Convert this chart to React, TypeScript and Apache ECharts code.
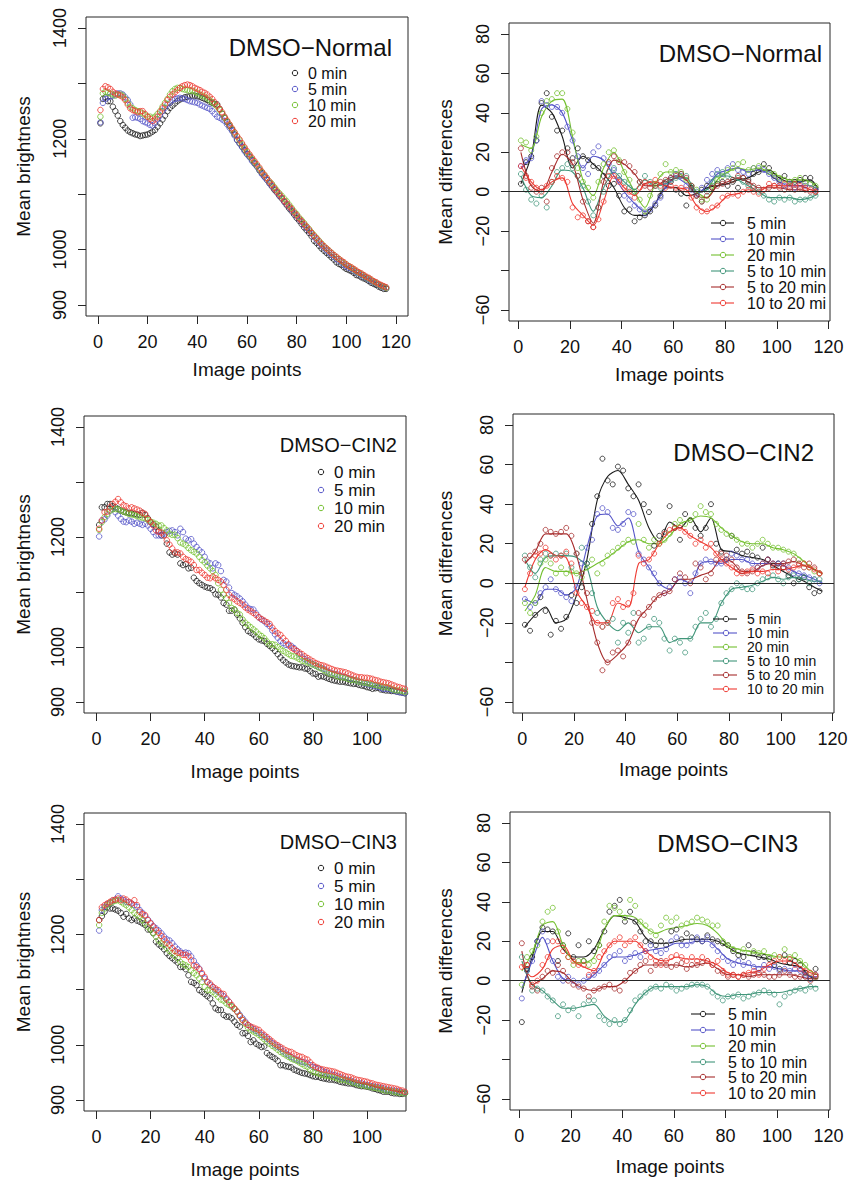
import React, { useEffect, useRef } from "react";
import * as echarts from "echarts";

// ---------- x positions (image point index) ----------
const brightX = Array.from({ length: 116 }, (_, i) => i + 1);
const diffPtX = Array.from({ length: 58 }, (_, i) => 1 + 2 * i);
const diffLineX = [1, 5, 9, 13, 17, 21, 25, 29, 33, 37, 41, 45, 49, 53, 57, 61, 65, 69, 73, 77, 81, 85, 89, 93, 97, 101, 105, 109, 113, 116];

// ---------- labels ----------
const brightLabels = ["0 min", "5 min", "10 min", "20 min"];
const diffLabels = ["5 min", "10 min", "20 min", "5 to 10 min", "5 to 20 min", "10 to 20 min"];
const xTicksWide = [0, 20, 40, 60, 80, 100, 120];
const xTicksNarrow = [0, 20, 40, 60, 80, 100];
const brightTicks = [900, 1000, 1100, 1200, 1300, 1400];
const brightTickLabels = [900, 1000, 1200, 1400];
const diffTicks = [-60, -40, -20, 0, 20, 40, 60, 80];
const diffTickLabels = [-60, -20, 0, 20, 40, 60, 80];

// ---------- DMSO-Normal brightness ----------
const normal0 = [1228,1272,1275,1268,1268,1258,1250,1242,1232,1225,1220,1215,1212,1210,1208,1207,1205,1206,1207,1208,1210,1213,1216,1222,1228,1235,1242,1250,1256,1260,1264,1268,1271,1273,1275,1276,1277,1278,1278,1277,1276,1274,1272,1270,1267,1265,1263,1262,1254,1245,1238,1230,1223,1216,1208,1198,1192,1186,1180,1173,1168,1162,1156,1150,1143,1138,1132,1126,1120,1114,1108,1103,1097,1092,1086,1080,1074,1069,1063,1057,1052,1046,1040,1035,1030,1024,1016,1012,1007,1002,998,994,990,986,982,977,974,972,968,965,963,961,958,954,953,950,948,946,943,940,938,936,933,931,929,929];
const normal5 = [1230,1265,1272,1275,1276,1278,1280,1282,1282,1280,1275,1270,1262,1238,1239,1238,1236,1232,1230,1228,1225,1224,1228,1235,1242,1250,1256,1262,1266,1270,1272,1273,1274,1273,1272,1270,1268,1267,1266,1265,1262,1260,1258,1256,1254,1250,1245,1240,1238,1235,1232,1226,1220,1214,1206,1198,1192,1185,1178,1172,1167,1160,1155,1150,1144,1136,1131,1126,1120,1115,1110,1104,1098,1093,1087,1082,1077,1071,1066,1060,1055,1050,1044,1039,1034,1029,1023,1018,1013,1008,1004,999,995,991,987,983,980,977,973,970,967,965,962,959,957,954,951,949,946,943,941,939,936,934,932,931];
const normal10 = [1240,1282,1285,1283,1282,1280,1278,1280,1280,1278,1272,1265,1258,1255,1252,1250,1248,1246,1243,1240,1240,1238,1240,1245,1250,1258,1265,1272,1280,1286,1290,1292,1292,1290,1289,1288,1287,1287,1285,1283,1280,1278,1276,1273,1270,1266,1262,1258,1252,1246,1238,1232,1225,1218,1211,1204,1197,1190,1183,1176,1170,1164,1158,1152,1146,1140,1135,1129,1123,1119,1113,1107,1102,1097,1092,1087,1081,1075,1069,1064,1058,1053,1048,1042,1037,1031,1026,1021,1016,1011,1006,1002,998,994,990,986,983,979,976,973,970,967,964,961,958,956,953,950,948,945,942,940,937,935,933,931];
const normal20 = [1252,1290,1295,1293,1290,1285,1282,1280,1278,1275,1270,1262,1255,1252,1250,1248,1250,1250,1245,1240,1236,1232,1235,1240,1248,1255,1262,1270,1276,1280,1284,1288,1292,1295,1297,1298,1297,1295,1292,1290,1288,1285,1283,1280,1276,1272,1266,1260,1254,1248,1240,1233,1226,1219,1212,1205,1199,1192,1185,1178,1172,1166,1160,1154,1148,1141,1135,1129,1123,1117,1111,1105,1100,1094,1088,1083,1078,1073,1067,1062,1056,1051,1046,1041,1036,1030,1025,1020,1015,1010,1006,1002,998,994,990,987,983,980,977,973,970,968,965,962,959,957,954,951,949,946,943,941,938,936,934,932];

// ---------- DMSO-CIN2 brightness ----------
const cin2_0 = [1222,1254,1254,1260,1260,1256,1254,1251,1248,1246,1245,1244,1243,1242,1241,1240,1244,1240,1234,1227,1223,1219,1211,1203,1203,1188,1172,1168,1170,1168,1152,1149,1151,1143,1144,1126,1120,1116,1113,1110,1108,1107,1104,1096,1095,1090,1080,1077,1066,1066,1068,1059,1052,1044,1036,1029,1026,1023,1018,1014,1012,1011,1006,1002,998,993,987,981,976,972,968,966,965,964,963,963,961,960,956,952,951,946,947,946,944,942,940,939,938,937,937,936,935,934,933,933,931,930,929,927,926,924,925,926,923,922,921,921,920,920,919,918,917,916,915,914];
const cin2_5 = [1201,1230,1232,1239,1248,1251,1245,1239,1233,1228,1227,1230,1228,1224,1226,1224,1222,1224,1221,1215,1209,1203,1203,1203,1206,1209,1211,1212,1209,1203,1215,1209,1197,1194,1196,1188,1182,1176,1172,1164,1155,1152,1143,1152,1149,1138,1122,1119,1108,1098,1095,1092,1088,1083,1077,1071,1069,1068,1061,1054,1050,1047,1042,1038,1030,1023,1017,1011,1007,1004,1003,1002,998,993,987,981,978,975,972,969,966,964,962,960,957,954,952,951,950,948,946,945,943,942,940,939,937,936,934,933,931,930,929,928,926,924,924,924,922,921,919,918,917,916,915,914];
const cin2_10 = [1213,1227,1236,1242,1248,1250,1251,1250,1248,1246,1244,1242,1241,1240,1238,1236,1235,1234,1231,1228,1226,1224,1221,1221,1216,1212,1206,1204,1204,1198,1190,1188,1185,1180,1176,1173,1170,1164,1158,1154,1148,1143,1138,1131,1116,1104,1095,1089,1080,1071,1068,1062,1059,1050,1044,1040,1036,1032,1028,1023,1020,1016,1010,1005,1005,1004,1000,996,993,990,987,984,983,981,978,975,974,972,970,968,966,963,961,958,955,952,951,950,947,945,945,944,942,940,940,939,937,936,935,934,933,932,931,930,929,927,927,926,924,922,921,921,920,918,917,916];
const cin2_20 = [1215,1230,1245,1246,1254,1260,1264,1269,1263,1258,1256,1252,1254,1252,1250,1248,1244,1242,1233,1227,1221,1212,1209,1208,1203,1194,1186,1179,1172,1172,1170,1164,1160,1158,1155,1149,1140,1140,1135,1131,1126,1125,1128,1125,1122,1119,1113,1104,1095,1090,1087,1083,1080,1077,1072,1068,1065,1062,1058,1054,1051,1048,1045,1042,1035,1029,1025,1022,1016,1011,1005,999,996,993,990,987,983,980,977,974,971,969,967,966,964,962,960,958,957,956,955,954,952,950,948,946,945,945,944,944,943,942,940,939,937,936,935,934,932,930,928,927,925,924,923,922];

// ---------- DMSO-CIN3 brightness ----------
const cin3_0 = [1226,1233,1241,1249,1247,1247,1245,1243,1239,1232,1237,1229,1226,1229,1225,1223,1220,1217,1209,1208,1202,1187,1182,1178,1173,1166,1161,1157,1153,1149,1141,1141,1137,1126,1114,1112,1108,1099,1096,1092,1088,1084,1075,1066,1063,1063,1054,1051,1051,1048,1042,1036,1033,1021,1021,1016,1005,1008,1002,999,996,997,985,981,978,975,971,963,963,961,960,959,955,953,951,949,948,947,945,943,942,942,940,939,938,937,937,936,935,933,932,931,930,930,929,927,926,925,925,924,923,921,920,918,917,915,915,915,913,912,912,911,911,912,911,910];
const cin3_5 = [1207,1244,1250,1255,1257,1261,1263,1269,1265,1262,1259,1258,1256,1253,1250,1244,1239,1233,1227,1221,1215,1211,1207,1202,1196,1191,1189,1184,1178,1173,1169,1166,1167,1166,1160,1152,1144,1138,1128,1120,1114,1108,1105,1099,1096,1092,1088,1082,1078,1070,1065,1060,1054,1048,1042,1036,1032,1028,1025,1022,1018,1015,1011,1007,1003,999,996,993,988,984,981,978,975,973,971,969,968,966,963,960,958,957,954,951,950,948,946,945,943,941,939,937,936,935,933,931,930,930,928,927,926,925,924,923,922,921,919,918,917,917,916,915,914,913,912,911];
const cin3_10 = [1217,1239,1247,1253,1257,1259,1261,1262,1259,1256,1253,1249,1244,1239,1235,1231,1226,1220,1214,1209,1203,1196,1189,1184,1181,1175,1170,1166,1161,1157,1150,1146,1144,1141,1135,1130,1126,1120,1114,1105,1099,1099,1096,1092,1087,1082,1080,1075,1072,1069,1065,1060,1052,1045,1038,1031,1027,1024,1021,1018,1014,1010,1006,1002,998,995,991,987,984,981,978,975,973,971,968,965,962,960,955,951,950,948,946,945,944,943,942,941,939,937,937,936,934,933,931,930,928,927,926,925,924,923,922,921,920,918,917,917,916,915,914,913,913,912,911,910];
const cin3_20 = [1226,1249,1253,1256,1259,1262,1263,1265,1262,1265,1263,1259,1256,1262,1253,1241,1237,1235,1226,1220,1214,1208,1203,1197,1191,1185,1181,1175,1170,1167,1166,1163,1163,1160,1153,1144,1141,1137,1130,1123,1114,1111,1105,1102,1099,1093,1092,1084,1078,1072,1066,1060,1052,1045,1040,1036,1033,1031,1029,1027,1022,1018,1014,1010,1006,1002,999,996,993,990,988,987,984,981,979,978,975,973,968,963,960,958,956,955,954,953,952,951,949,947,945,943,942,941,939,937,936,935,934,933,931,930,928,927,926,925,924,923,922,921,920,918,917,915,914,913];

// ---------- DMSO-Normal differences (points at odd x, smooth curves) ----------
const nD5 = [4,15,18,26,45,50,38,31,31,22,17,22,18,16,13,12,8,3,4,-2,-10,-9,-15,-13,-12,-10,-7,-2,4,5,1,-1,-7,2,-2,1,3,2,4,5,3,5,2,7,6,9,10,14,12,8,6,8,5,5,6,7,7,2];
const nD5c = [4,18,44,40,28,12,18,14,9,2,-8,-12,-12,-6,2,2,-2,-1,2,3,4,6,7,10,11,7,5,5,6,1];
const nD10 = [13,16,17,26,46,44,43,43,40,33,26,18,12,9,20,23,17,14,11,6,-2,-4,-7,-9,-11,-9,-6,-3,3,7,9,8,3,1,-1,2,6,9,11,9,12,14,11,10,9,12,12,11,9,7,5,3,4,2,4,3,4,1];
const nD10c = [12,18,42,44,40,26,12,18,16,8,0,-6,-10,-6,2,7,4,-1,3,9,11,12,10,11,9,5,3,3,3,1];
const nD20 = [26,25,21,28,40,46,47,50,50,42,30,12,5,2,-3,5,14,20,21,16,10,6,0,-4,-10,-2,4,9,14,10,11,10,6,3,1,-4,-4,3,6,8,11,12,14,15,11,12,13,12,10,9,7,6,5,6,7,5,4,3];
const nD20c = [24,22,38,46,47,28,6,-2,12,20,10,0,-8,4,10,10,6,0,-3,6,10,12,11,12,10,8,6,6,5,2];
const nD5to10 = [9,1,-4,-6,-2,-8,5,10,12,14,12,8,3,-5,-12,-8,0,10,12,8,5,2,0,5,8,5,3,2,5,6,7,9,8,3,0,-5,0,5,9,10,8,6,7,5,3,2,0,-2,-4,-5,-3,-4,-3,-5,-4,-4,-3,-2];
const nD5to10c = [8,-2,-3,3,11,10,2,-10,2,10,5,1,6,3,4,7,7,0,1,8,8,6,3,0,-3,-3,-3,-4,-3,-1];
const nD5to20 = [22,8,2,0,2,-5,12,18,20,20,15,8,-5,-15,-18,-8,5,15,18,15,15,13,10,5,3,2,3,5,6,7,8,9,7,3,-2,-5,-2,2,3,4,5,6,8,7,5,3,2,1,2,3,2,1,2,1,2,1,0,0];
const nD5to20c = [20,3,0,10,19,14,-4,-16,5,16,14,9,3,3,6,8,6,-2,-3,3,5,7,5,2,2,2,1,1,0,0];
const nD10to20 = [13,7,5,2,0,3,5,8,7,5,-8,-13,-12,-15,-18,-14,-5,8,8,5,2,0,-3,2,5,4,6,3,2,3,2,2,1,-3,-8,-10,-10,-8,-7,-3,-2,-1,-2,0,1,0,-1,1,4,3,3,4,3,4,3,2,1,0];
const nD10to20c = [13,5,1,5,7,-6,-12,-17,-5,8,2,-2,4,5,3,2,1,-7,-10,-7,-2,-1,1,0,3,3,3,3,1,0];

// ---------- DMSO-CIN2 differences ----------
const c2D5 = [-21,-24,-16,-7,-14,-26,-19,-23,-17,-6,-10,-2,10,30,44,63,52,50,59,57,48,44,50,40,36,19,24,26,39,28,22,35,32,28,24,28,40,20,16,12,24,17,15,16,14,13,18,12,9,10,8,4,0,2,3,-2,-5,-4];
const c2D5c = [-22,-16,-12,-20,-18,-6,12,42,54,57,50,42,28,21,31,28,33,26,33,17,16,14,13,12,9,6,3,1,-2,-4];
const c2D10 = [-8,-12,-10,-5,-2,2,-3,-5,-7,-9,-2,10,18,22,35,38,36,28,27,30,36,35,15,12,8,5,0,-5,-2,2,3,0,-5,5,10,12,11,10,10,12,15,14,12,12,10,8,10,12,10,10,10,8,5,5,4,3,2,0];
const c2D10c = [-8,-10,-3,-3,-6,-2,18,34,35,29,33,16,8,0,-3,2,0,10,11,10,12,12,10,10,10,9,6,4,2,0];
const c2D20 = [-10,-15,-10,10,12,10,5,8,5,6,5,3,8,12,5,10,14,16,18,20,22,21,30,22,18,22,20,22,25,30,32,30,32,35,39,36,35,30,27,25,24,22,20,20,18,20,22,20,18,18,17,16,15,12,10,8,6,5];
const c2D20c = [-14,-6,8,6,6,5,7,10,13,17,21,22,20,20,24,30,32,34,33,28,24,21,20,20,18,17,15,11,7,5];
const c2D5to10 = [14,8,3,12,15,14,15,14,15,8,15,18,10,-5,-15,-22,-20,-18,-30,-20,-25,-15,-30,-28,-22,-18,-20,-28,-34,-28,-30,-35,-28,-22,-18,-15,-22,-18,-10,-5,-3,0,-2,-3,-3,0,2,3,4,2,0,3,4,2,3,0,2,2];
const c2D5to10c = [12,5,13,14,14,13,8,-12,-20,-24,-20,-25,-22,-22,-30,-28,-28,-20,-20,-10,-3,-2,-1,1,3,2,3,2,1,1];
const c2D5to20 = [12,14,16,20,27,26,25,26,28,24,15,5,-5,-20,-30,-44,-40,-35,-34,-37,-30,-20,-15,-16,-12,-8,-6,-5,-4,2,5,3,0,10,8,2,5,12,15,14,12,8,6,5,6,8,10,12,10,8,10,11,12,10,8,10,8,5];
const c2D5to20c = [10,16,25,25,25,14,-8,-30,-40,-36,-30,-18,-12,-6,-4,2,2,4,6,12,11,6,6,9,10,10,11,9,7,5];
const c2D10to20 = [-3,5,14,15,18,14,12,14,16,10,-5,-10,-12,-14,-20,-22,-20,-10,-8,-12,-10,-5,14,10,12,15,20,25,27,28,28,26,24,20,22,18,20,15,12,10,8,5,5,6,7,5,6,5,8,6,8,7,8,9,10,8,7,5];
const c2D10to20c = [-2,12,17,14,13,-4,-12,-20,-20,-10,-12,10,12,20,26,28,24,21,18,12,8,5,6,6,7,7,8,9,7,5];

// ---------- DMSO-CIN3 differences ----------
const c3D5 = [-21,6,12,20,27,26,25,10,18,24,12,18,10,20,15,18,25,35,38,41,30,35,30,25,20,20,18,20,18,25,26,21,24,22,21,20,23,21,20,19,18,15,13,12,18,14,12,12,11,8,6,13,9,10,8,4,1,6];
const c3D5c = [-6,12,25,25,16,12,12,16,26,33,32,30,22,19,19,20,21,21,21,20,17,14,13,12,11,9,8,7,2,1];
const c3D10 = [-9,5,10,20,25,20,10,2,0,2,0,-2,0,2,3,5,8,12,13,15,10,12,14,12,15,18,15,14,16,20,22,18,18,20,22,20,22,18,15,12,10,8,10,8,9,7,6,8,6,7,5,6,5,6,5,3,1,3];
const c3D10c = [-4,10,22,10,1,0,0,3,8,12,12,13,15,16,17,19,19,20,20,16,11,9,8,7,7,6,5,5,2,2];
const c3D20 = [-2,12,15,18,30,35,37,25,18,12,8,10,10,8,10,18,30,38,37,35,32,41,38,30,28,25,23,28,32,30,32,28,29,30,32,31,30,28,28,20,18,16,15,16,14,15,14,15,12,13,12,16,12,13,10,8,4,2];
const c3D20c = [5,14,28,30,18,10,9,12,26,33,33,32,27,24,26,27,28,29,28,24,18,16,15,14,13,12,12,10,5,3];
const c3D5to10 = [12,5,-5,-4,-5,-8,-10,-18,-12,-15,-14,-18,-12,-10,-10,-18,-20,-22,-20,-22,-20,-15,-10,-8,-6,-4,-3,-4,-2,-3,-5,-4,-3,-2,-2,-2,-3,-6,-8,-10,-8,-8,-7,-9,-8,-7,-6,-5,-6,-7,-12,-8,-6,-5,-4,-5,-3,-4];
const c3D5to10c = [10,-2,-5,-10,-14,-14,-13,-12,-18,-21,-20,-12,-6,-3,-3,-3,-3,-2,-3,-7,-8,-7,-7,-6,-6,-6,-5,-4,-3,-3];
const c3D5to20 = [19,8,-3,-5,2,5,4,8,5,0,-2,-3,-4,-8,-5,-4,-3,-2,-4,-5,0,4,5,8,10,5,8,10,8,7,8,9,6,8,8,9,10,8,5,4,2,3,2,3,2,3,4,3,2,2,3,5,3,2,2,2,0,2];
const c3D5to20c = [15,-2,1,5,4,-1,-4,-5,-3,-3,0,5,8,8,8,8,7,8,9,6,3,3,2,3,3,3,3,2,1,1];
const c3D10to20 = [7,8,-2,0,8,12,20,20,15,12,10,8,8,3,5,12,15,18,20,22,18,20,22,18,15,12,10,8,10,12,13,12,10,12,10,12,10,8,10,5,3,3,2,3,4,5,3,6,8,10,12,10,11,8,6,5,4,3];
const c3D10to20c = [8,2,6,16,18,10,7,5,14,20,20,20,15,11,10,12,11,11,10,8,4,3,4,5,8,10,10,7,4,3];

// ---------- styling ----------
const FONT = '"Liberation Sans", Arial, Helvetica, sans-serif';
const INK = "#262626";
const TXT = "#111111";
const brightColors = ["#1c1c1c", "#5555c8", "#74c030", "#ee3a32"];
const diffColors = ["#1c1c1c", "#5555c8", "#74c030", "#41967a", "#a62c2c", "#ee3a32"];

type Panel = {
  kind: "bright" | "diff";
  box: [number, number, number, number];
  xMin: number;
  xMax: number;
  xTicks: number[];
  xNameGap: number;
  yNameGap: number;
  title: string;
  titleX: number;
  titleY: number;
  titleSize: number;
  legend: { lx1?: number; lx2?: number; cx: number; rows: number[]; tx: number; size: number; clipW?: number };
  pts?: number[][];
  curves?: number[][];
};

const panels: Panel[] = [
  {
    kind: "bright", box: [86, 17, 322, 299], xMin: -4.8, xMax: 124.8, xTicks: xTicksWide, xNameGap: 44, yNameGap: 53,
    title: "DMSO\u2212Normal", titleX: 392, titleY: 47, titleSize: 24,
    legend: { cx: 295, rows: [73, 89, 105, 121], tx: 308, size: 16 },
    pts: [normal0, normal5, normal10, normal20],
  },
  {
    kind: "diff", box: [509, 23, 321, 298], xMin: -3.6, xMax: 120.6, xTicks: xTicksWide, xNameGap: 44, yNameGap: 54,
    title: "DMSO\u2212Normal", titleX: 822, titleY: 53, titleSize: 24,
    legend: { lx1: 711, lx2: 734, cx: 723, rows: [223, 239, 255, 271, 287, 303], tx: 747, size: 16, clipW: 88 },
    pts: [nD5, nD10, nD20, nD5to10, nD5to20, nD10to20],
    curves: [nD5c, nD10c, nD20c, nD5to10c, nD5to20c, nD10to20c],
  },
  {
    kind: "bright", box: [84, 416, 322, 297], xMin: -4.6, xMax: 114.4, xTicks: xTicksNarrow, xNameGap: 49, yNameGap: 51,
    title: "DMSO\u2212CIN2", titleX: 397, titleY: 445, titleSize: 20,
    legend: { cx: 321, rows: [472, 490, 508, 526], tx: 334, size: 17 },
    pts: [cin2_0, cin2_5, cin2_10, cin2_20],
  },
  {
    kind: "diff", box: [513, 414, 321, 299], xMin: -3.6, xMax: 120.6, xTicks: xTicksWide, xNameGap: 47, yNameGap: 58,
    title: "DMSO\u2212CIN2", titleX: 814, titleY: 452, titleSize: 24,
    legend: { lx1: 713, lx2: 737, cx: 726, rows: [619, 633, 647, 661, 675, 689], tx: 747, size: 14 },
    pts: [c2D5, c2D10, c2D20, c2D5to10, c2D5to20, c2D10to20],
    curves: [c2D5c, c2D10c, c2D20c, c2D5to10c, c2D5to20c, c2D10to20c],
  },
  {
    kind: "bright", box: [84, 813, 322, 298], xMin: -4.6, xMax: 114.4, xTicks: xTicksNarrow, xNameGap: 49, yNameGap: 51,
    title: "DMSO\u2212CIN3", titleX: 397, titleY: 842, titleSize: 20,
    legend: { cx: 321, rows: [868, 886, 904, 922], tx: 334, size: 17 },
    pts: [cin3_0, cin3_5, cin3_10, cin3_20],
  },
  {
    kind: "diff", box: [510, 812, 320, 298], xMin: -3.6, xMax: 120.6, xTicks: xTicksWide, xNameGap: 47, yNameGap: 55,
    title: "DMSO\u2212CIN3", titleX: 798, titleY: 843, titleSize: 24,
    legend: { lx1: 691, lx2: 715, cx: 703, rows: [1014, 1030, 1046, 1062, 1077, 1093], tx: 728, size: 16 },
    pts: [c3D5, c3D10, c3D20, c3D5to10, c3D5to20, c3D10to20],
    curves: [c3D5c, c3D10c, c3D20c, c3D5to10c, c3D5to20c, c3D10to20c],
  },
];

const fmtNum = (v: number) => (v < 0 ? "\u2212" + Math.abs(v) : String(v));

function buildOption() {
  const grid: any[] = [];
  const xAxis: any[] = [];
  const yAxis: any[] = [];
  const series: any[] = [];
  const graphic: any[] = [];

  panels.forEach((p, i) => {
    const [l, t, w, h] = p.box;
    grid.push({ left: l, top: t, width: w, height: h, show: true, borderColor: INK, borderWidth: 1, backgroundColor: "transparent" });
    xAxis.push({
      gridIndex: i, type: "value", min: p.xMin, max: p.xMax, position: "bottom",
      axisLine: { show: false, onZero: false }, splitLine: { show: false },
      axisTick: { show: true, inside: false, length: 8, lineStyle: { color: INK, width: 1 }, customValues: p.xTicks },
      axisLabel: { customValues: p.xTicks, margin: 17, fontSize: 18, color: TXT, fontFamily: FONT, formatter: fmtNum },
      name: "Image points", nameLocation: "middle", nameGap: p.xNameGap,
      nameTextStyle: { fontSize: 19, color: TXT, fontFamily: FONT },
    });
    const isB = p.kind === "bright";
    yAxis.push({
      gridIndex: i, type: "value", min: isB ? 880 : -65.6, max: isB ? 1420 : 85.6, position: "left",
      axisLine: { show: false, onZero: false }, splitLine: { show: false },
      axisTick: { show: true, inside: false, length: 8, lineStyle: { color: INK, width: 1 }, customValues: isB ? brightTicks : diffTicks },
      axisLabel: { customValues: isB ? brightTickLabels : diffTickLabels, rotate: 90, margin: 17, fontSize: 18, color: TXT, fontFamily: FONT, formatter: fmtNum },
      name: isB ? "Mean brightness" : "Mean differences", nameLocation: "middle", nameGap: p.yNameGap,
      nameTextStyle: { fontSize: 19, color: TXT, fontFamily: FONT },
    });

    const colors = isB ? brightColors : diffColors;
    const labels = isB ? brightLabels : diffLabels;

    if (!isB) {
      series.push({
        type: "line", xAxisIndex: i, yAxisIndex: i, data: [], silent: true, z: 1,
        markLine: {
          silent: true, symbol: "none", label: { show: false },
          lineStyle: { color: INK, width: 1, type: "solid" },
          data: [{ yAxis: 0 }],
        },
      });
    }

    p.pts!.forEach((arr, k) => {
      const xs = isB ? brightX : diffPtX;
      series.push({
        type: "scatter", name: labels[k], xAxisIndex: i, yAxisIndex: i, silent: true, z: 3,
        symbol: "circle", symbolSize: isB ? 5.5 : 5,
        itemStyle: { color: "rgba(255,255,255,0)", borderColor: colors[k], borderWidth: 1 },
        data: arr.map((v, j) => [xs[j], v]),
        clip: true,
      });
    });
    if (p.curves) {
      p.curves.forEach((arr, k) => {
        series.push({
          type: "line", name: labels[k] + " fit", xAxisIndex: i, yAxisIndex: i, silent: true, z: 2,
          smooth: 0.3, showSymbol: false, symbol: "none",
          lineStyle: { color: colors[k], width: 1.1 },
          data: arr.map((v, j) => [diffLineX[j], v]),
          clip: true,
        });
      });
    }

    // title
    graphic.push({
      type: "text", x: p.titleX, y: p.titleY, z: 100,
      style: { text: p.title, fontSize: p.titleSize, fontFamily: FONT, fill: TXT, align: "right", verticalAlign: "middle" },
    });
    // legend
    const lg = p.legend;
    lg.rows.forEach((ry, k) => {
      if (lg.lx1 !== undefined) {
        graphic.push({ type: "line", z: 100, shape: { x1: lg.lx1, y1: ry, x2: lg.lx2, y2: ry }, style: { stroke: colors[k], lineWidth: 1.1 } });
      }
      graphic.push({ type: "circle", z: 101, shape: { cx: lg.cx, cy: ry, r: 2.7 }, style: { fill: "#ffffff", stroke: colors[k], lineWidth: 1 } });
      const ts: any = { text: labels[k], fontSize: lg.size, fontFamily: FONT, fill: TXT, align: "left", verticalAlign: "middle", lineHeight: 14 };
      if (lg.clipW) {
        ts.width = lg.clipW;
        ts.overflow = "truncate";
        ts.ellipsis = "";
      }
      graphic.push({ type: "text", z: 100, x: lg.tx, y: ry, style: ts });
    });
  });

  return {
    animation: false,
    backgroundColor: "#ffffff",
    textStyle: { fontFamily: FONT },
    grid, xAxis, yAxis, series, graphic,
  };
}

export default function App() {
  const ref = useRef<HTMLDivElement>(null);
  useEffect(() => {
    if (!ref.current) return;
    const chart = echarts.init(ref.current, undefined, { renderer: "svg" });
    chart.setOption(buildOption() as any);
    return () => chart.dispose();
  }, []);
  return <div ref={ref} style={{ position: "absolute", left: 0, top: 0, width: 860, height: 1180, background: "#fff" }} />;
}
